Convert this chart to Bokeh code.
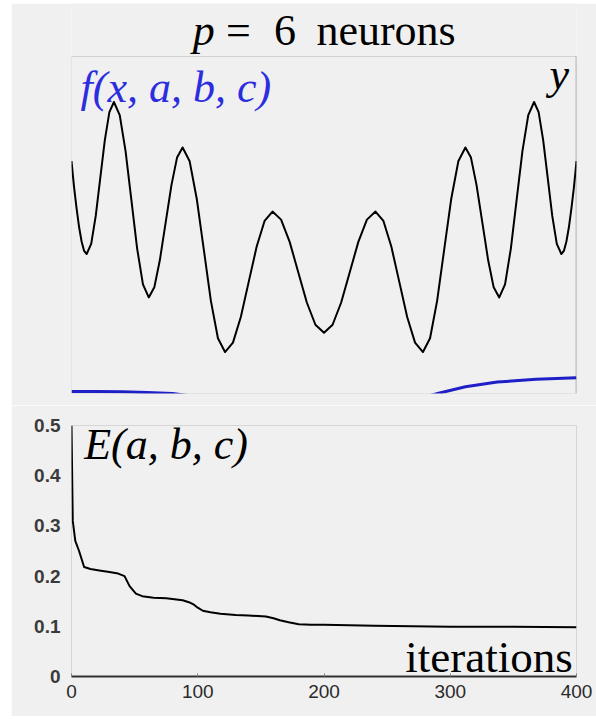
from bokeh.plotting import figure
from bokeh.layouts import column
from bokeh.models import Range1d, Label, BoxAnnotation, FixedTicker
from bokeh.embed import file_html
from bokeh.resources import INLINE

# ---------------- data ----------------
# top panel: target y (black) and network output f (blue), x normalised 0..1
y_x = [0.000, 0.005, 0.010, 0.015, 0.020, 0.025, 0.030,
       0.039, 0.048, 0.057, 0.066, 0.075, 0.084,
       0.0955, 0.107, 0.1185, 0.130, 0.1415, 0.153,
       0.164, 0.175, 0.1865, 0.198, 0.209, 0.220,
       0.234, 0.248, 0.262, 0.276, 0.290, 0.304,
       0.3197, 0.3353, 0.351, 0.3667, 0.3823, 0.398,
       0.415, 0.432, 0.449, 0.466, 0.483, 0.500,
       0.517, 0.534, 0.551, 0.568, 0.585, 0.602,
       0.6177, 0.6333, 0.649, 0.6647, 0.6803, 0.696,
       0.710, 0.724, 0.738, 0.752, 0.766, 0.780,
       0.791, 0.802, 0.8135, 0.825, 0.836, 0.847,
       0.8585, 0.870, 0.8815, 0.893, 0.9045, 0.916,
       0.925, 0.934, 0.943, 0.952, 0.961, 0.970,
       0.975, 0.980, 0.985, 0.990, 0.995, 1.000]
y_val = [0.690, 0.613, 0.550, 0.494, 0.451, 0.423, 0.414,
         0.444, 0.527, 0.640, 0.752, 0.835, 0.865,
         0.826, 0.720, 0.575, 0.430, 0.324, 0.285,
         0.315, 0.396, 0.508, 0.619, 0.700, 0.730,
         0.689, 0.578, 0.427, 0.275, 0.164, 0.123,
         0.151, 0.227, 0.332, 0.436, 0.512, 0.540,
         0.516, 0.450, 0.360, 0.270, 0.204, 0.180,
         0.204, 0.270, 0.360, 0.450, 0.516, 0.540,
         0.512, 0.436, 0.332, 0.227, 0.151, 0.123,
         0.164, 0.275, 0.427, 0.578, 0.689, 0.730,
         0.700, 0.619, 0.508, 0.396, 0.315, 0.285,
         0.324, 0.430, 0.575, 0.720, 0.826, 0.865,
         0.835, 0.752, 0.640, 0.527, 0.444, 0.414,
         0.423, 0.451, 0.494, 0.550, 0.613, 0.690]

f_x = [0.00, 0.05, 0.10, 0.15, 0.20, 0.30, 0.40, 0.50, 0.60, 0.70,
       0.725, 0.78, 0.843, 0.92, 1.00]
f_val = [0.006, 0.006, 0.005, 0.003, 0.000, -0.020, -0.040, -0.050, -0.040, -0.010,
         0.000, 0.020, 0.034, 0.042, 0.047]

# bottom panel: error vs iterations
iters = [0, 1, 3, 6, 10, 15, 22, 30, 37, 42, 46, 51, 56, 65, 75, 88, 93, 97,
         100, 104, 110, 118, 130, 140, 154, 160, 165, 172, 180, 190, 200, 240,
         300, 350, 400]
err = [0.500, 0.310, 0.270, 0.250, 0.218, 0.214, 0.211, 0.208, 0.205, 0.200,
       0.180, 0.165, 0.160, 0.157, 0.156, 0.152, 0.148, 0.143, 0.137, 0.131,
       0.128, 0.125, 0.1225, 0.1215, 0.1195, 0.116, 0.112, 0.108, 0.104, 0.103,
       0.103, 0.101, 0.099, 0.099, 0.098]

x_ticks = [0, 100, 200, 300, 400]
y_ticks = [0, 0.1, 0.2, 0.3, 0.4, 0.5]

BG = "#f0f0f0"
SERIF = "Liberation Serif, Times New Roman, serif"
SANS = "Liberation Sans, Arial, sans-serif"
BLUE_LINE = "#1f1fc8"
BLUE_TEXT = "#2d2de0"

# ---------------- top panel ----------------
# frame extends above the unit box so the title can sit inside it
p1 = figure(width=585, height=402, output_backend="svg", toolbar_location=None,
            x_axis_type=None, y_axis_type=None,
            x_range=Range1d(0, 1), y_range=Range1d(0, 1.1573),
            min_border_left=60, min_border_right=16,
            min_border_top=0, min_border_bottom=12)
p1.background_fill_color = BG
p1.border_fill_color = BG
p1.outline_line_color = None
p1.grid.visible = False

p1.add_layout(BoxAnnotation(left=0, right=1, bottom=0, top=1, fill_alpha=0,
                            line_color="#8a8a8a", line_width=1))
p1.add_layout(BoxAnnotation(left=1, right=1, bottom=0, top=1, fill_alpha=0,
                            line_color="#3a3a3a", line_width=2))

p1.line(y_x, y_val, line_color="black", line_width=2, line_join="round")
p1.line(f_x, f_val, line_color=BLUE_LINE, line_width=3, line_join="round")

# title "p = 6 neurons"
title_y = 1.077
for tx, tt, ts in [(0.240, "p", "italic"), (0.306, "=", "normal"),
                   (0.401, "6", "normal"), (0.485, "neurons", "normal")]:
    p1.add_layout(Label(x=tx, y=title_y, text=tt, text_font=SERIF, text_font_style=ts,
                        text_font_size="44px", text_color="black",
                        text_baseline="alphabetic"))

p1.add_layout(Label(x=0.018, y=0.908, text="f(x, a, b, c)", text_font=SERIF,
                    text_font_style="italic", text_font_size="44px",
                    text_color=BLUE_TEXT, text_baseline="alphabetic"))
p1.add_layout(Label(x=0.985, y=0.947, text="y", text_font=SERIF,
                    text_font_style="italic", text_font_size="44px",
                    text_color="black", text_align="right", text_baseline="alphabetic"))

# ---------------- bottom panel ----------------
p2 = figure(width=585, height=311, output_backend="svg", toolbar_location=None,
            x_range=Range1d(0, 400), y_range=Range1d(0, 0.5),
            min_border_left=57, min_border_right=20,
            min_border_top=20, min_border_bottom=40)
p2.background_fill_color = BG
p2.border_fill_color = BG
p2.outline_line_color = "#d6d6d6"
p2.outline_line_width = 1
p2.grid.visible = False

p2.line(iters, err, line_color="black", line_width=2, line_join="round")

p2.xaxis.ticker = FixedTicker(ticks=x_ticks)
p2.yaxis.ticker = FixedTicker(ticks=y_ticks)
p2.xaxis.axis_line_color = "#303030"
p2.xaxis.axis_line_width = 2
p2.xaxis.major_tick_in = 3
p2.xaxis.major_tick_out = 0
p2.xaxis.major_tick_line_color = "#808080"
p2.xaxis.minor_tick_line_color = None
p2.xaxis.major_label_text_font = SANS
p2.xaxis.major_label_text_font_size = "19px"
p2.xaxis.major_label_text_color = "#2a2a2a"
p2.xaxis.major_label_standoff = 8

p2.yaxis.axis_line_color = None
p2.yaxis.major_tick_line_color = None
p2.yaxis.minor_tick_line_color = None
p2.yaxis.major_label_text_font = SANS
p2.yaxis.major_label_text_font_size = "19px"
p2.yaxis.major_label_text_font_style = "bold"
p2.yaxis.major_label_text_color = "#3a3a3a"
p2.yaxis.major_label_standoff = 5

p2.add_layout(Label(x=10, y=0.462, text="E(a, b, c)", text_font=SERIF,
                    text_font_style="italic", text_font_size="44px",
                    text_color="black", text_baseline="alphabetic"))
p2.add_layout(Label(x=397, y=0.038, text="iterations", text_font=SERIF,
                    text_font_size="45px", text_color="black",
                    text_align="right", text_baseline="alphabetic"))

layout = column(p1, p2, spacing=0, margin=(3, 0, 0, 11))

with open("out.html", "w") as fh:
    fh.write(file_html(layout, INLINE))
